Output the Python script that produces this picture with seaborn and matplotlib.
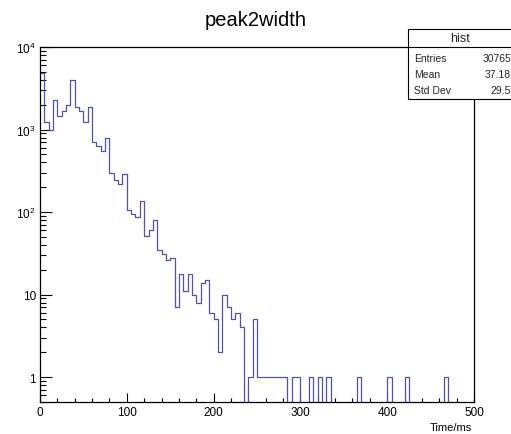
import numpy as np
import pandas as pd
import matplotlib
matplotlib.use("Agg")
import matplotlib.pyplot as plt
import seaborn as sns
from matplotlib.ticker import FixedLocator, LogLocator, MultipleLocator, FuncFormatter, NullFormatter
from matplotlib.patches import Rectangle
from matplotlib.lines import Line2D

# ---------------- data ----------------
title = "peak2width"
x_label = "Time/ms"
bin_width = 5.0
x_min, x_max = 0, 500
counts = [4900, 1220, 980, 2300, 1450, 1700, 1970, 4030, 1890, 1670,
          1240, 1880, 710, 630, 550, 780, 295, 245, 220, 290,
          107, 95, 87, 136, 52, 60, 80, 35, 31, 26,
          28, 7, 18, 11, 18, 10, 8, 14, 15, 6,
          5, 2, 10, 7, 5, 6, 4, 0, 1, 5,
          1, 1, 1, 1, 1, 1, 1, 0, 1, 1,
          0, 0, 1, 0, 1, 0, 1, 0, 0, 0,
          0, 0, 0, 1, 0, 0, 0, 0, 0, 0,
          1, 0, 0, 0, 1, 0, 0, 0, 0, 0,
          0, 0, 0, 1, 0, 0, 0, 0, 0, 0]
stats_name = "hist"
stats_labels = ["Entries", "Mean", "Std Dev"]
stats_values = ["30765", "37.18", "29.5"]
y_ticks = [1, 10, 100, 1000, 10000]

edges = [x_min + bin_width * i for i in range(len(counts) + 1)]
centers = [e + bin_width / 2 for e in edges[:-1]]
df = pd.DataFrame({"time": centers, "count": counts})

# ---------------- style ----------------
sns.set_theme(style="white")
plt.rcParams["font.family"] = ["Liberation Sans", "DejaVu Sans"]
plt.rcParams["mathtext.fontset"] = "custom"
plt.rcParams["mathtext.rm"] = "Liberation Sans"
plt.rcParams["mathtext.it"] = "Liberation Sans:italic"

W, H = 511, 435
fig = plt.figure(figsize=(W / 100, H / 100), dpi=100)
fig.patch.set_facecolor("white")
ax = fig.add_axes([40 / W, 1 - 403 / H, 434 / W, 355 / H])
ax.set_facecolor("white")

sns.histplot(data=df, x="time", weights="count", bins=edges, element="step",
             fill=False, color="#5252b0", linewidth=0.9, ax=ax)

ax.set_yscale("log")
ax.set_xlim(x_min, x_max)
ax.set_ylim(0.5, 1e4)
ax.set_xlabel("")
ax.set_ylabel("")

def yfmt(v, pos):
    if v < 1.5:
        return "1"
    if v < 15:
        return "10"
    return r"$\mathdefault{10^{%d}}$" % int(round(np.log10(v)))

ax.yaxis.set_major_locator(FixedLocator(y_ticks))
ax.yaxis.set_major_formatter(FuncFormatter(yfmt))
ax.yaxis.set_minor_locator(LogLocator(base=10, subs=np.arange(2, 10), numticks=30))
ax.yaxis.set_minor_formatter(NullFormatter())
ax.xaxis.set_major_locator(MultipleLocator(100))
ax.xaxis.set_minor_locator(MultipleLocator(20))

ax.tick_params(axis="both", which="both", direction="in", top=False, right=False,
               left=True, bottom=True, color="black", labelcolor="black",
               labelsize=8.5, width=0.8)
ax.tick_params(axis="y", which="major", length=8.5, pad=3)
ax.tick_params(axis="y", which="minor", length=4.3)
ax.tick_params(axis="x", which="major", length=6.5, pad=3)
ax.tick_params(axis="x", which="minor", length=3.2)

for s in ax.spines.values():
    s.set_visible(True)
    s.set_color("black")
    s.set_linewidth(0.9)

# title and axis label
fig.text(0.5, 1 - 20 / H, title, ha="center", va="center", fontsize=14.5, color="black")
fig.text(472 / W, 1 - 428 / H, x_label, ha="right", va="center", fontsize=8, color="black")

# stats box
bx0, bx1, by0, by1, bsep = 408, 530, 30, 100, 48
fig.patches.append(Rectangle((bx0 / W, 1 - by1 / H), (bx1 - bx0) / W, (by1 - by0) / H,
                             transform=fig.transFigure, facecolor="white",
                             edgecolor="black", linewidth=0.8, zorder=5))
fig.lines.append(Line2D([bx0 / W, bx1 / W], [1 - bsep / H, 1 - bsep / H],
                        transform=fig.transFigure, color="black", linewidth=0.8, zorder=6))
fig.text(460 / W, 1 - 39 / H, stats_name, ha="center", va="center", fontsize=9, zorder=7)
for i, (lab, val) in enumerate(zip(stats_labels, stats_values)):
    yy = 1 - (59 + 16 * i) / H
    fig.text(414 / W, yy, lab, ha="left", va="center", fontsize=7.5, zorder=7)
    fig.text(511 / W, yy, val, ha="right", va="center", fontsize=7.5, zorder=7)

fig.savefig("out.png", dpi=100, facecolor="white")
